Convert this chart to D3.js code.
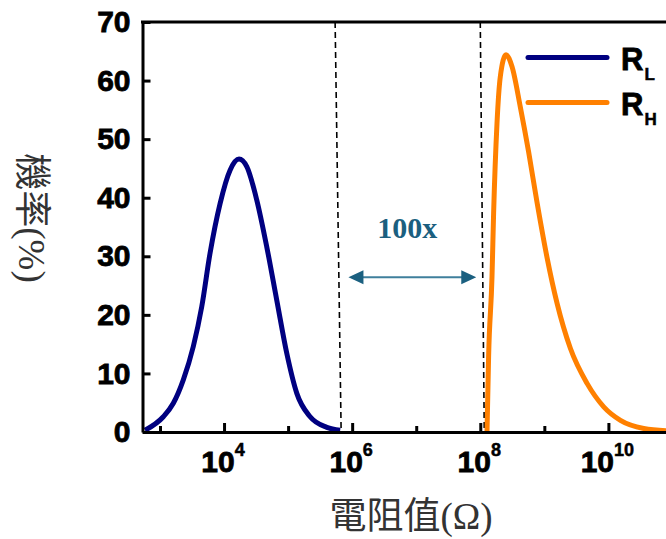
<!DOCTYPE html>
<html>
<head>
<meta charset="utf-8">
<script src="https://cdn.jsdelivr.net/npm/d3@7"></script>
<style>
  body { margin: 0; background: #fff; }
  svg { display: block; }
</style>
</head>
<body>
<div id="chart"></div>
<script>
// svg box size
var width = 666,
    height = 539;

// R_L curve: log10(resistance) and probability (%)
var rlExp  = [2.766, 3.052, 3.208, 3.364, 3.52, 3.652, 3.781, 3.938, 4.094, 4.234,
              4.355, 4.511, 4.667, 4.823, 4.98, 5.136, 5.344, 5.605, 5.813];
var rlProb = [0.3, 2.6, 4.9, 8.9, 14.6, 21.4, 30.5, 39.0, 44.7, 46.6,
              45.3, 39.6, 31.6, 22.5, 13.4, 6.6, 2.6, 0.8, 0.3];

// R_H curve
var rhExp  = [8.105, 8.13, 8.183, 8.208, 8.261, 8.313, 8.402, 8.495, 8.625, 8.755,
              8.886, 9.042, 9.198, 9.406, 9.667, 9.927, 10.188, 10.552, 10.906, 11.3];
var rhProb = [0, 12.9, 26.5, 37.3, 52.7, 60.7, 64.4, 62.4, 55.5, 47.8,
              39.2, 29.8, 22.0, 14.3, 8.3, 4.3, 2.0, 0.6, 0.2, 0.1];

// ticks
var yTicks = [0, 10, 20, 30, 40, 50, 60, 70];
var xDecades = [3, 4, 5, 6, 7, 8, 9, 10, 11];
var xLabelExp = [4, 6, 8, 10];

// dashed guide lines (top exp, bottom exp) and the 100x arrow
var guideTop = [5.734, 8.0];
var guideBottom = [5.828, 8.0625];
var arrowExp = [5.942, 7.9375];
var arrowProb = 26.4;

var legendNames = ["L", "H"];
var colors = ["#000080", "#ff8000"];

var x = d3.scaleLog()
    .domain([Math.pow(10, 2.727), Math.pow(10, 11.43)])
    .range([142.5, 700]);

var y = d3.scaleLinear()
    .domain([0, 70])
    .range([432, 22]);

var svg = d3.select("#chart").append("svg")
    .attr("width", width)
    .attr("height", height);

var numFont = "'Liberation Sans', Arial, sans-serif";
var titleFont = "'Liberation Serif', 'Noto Sans CJK TC', serif";

// clip so curves stay in the plot
svg.append("clipPath").attr("id", "plot")
  .append("rect")
    .attr("x", 142.5).attr("y", 22)
    .attr("width", 560).attr("height", 410);

// dashed guide lines
svg.selectAll(".guide")
    .data(guideTop)
    .enter()
    .append("line")
    .attr("x1", function(d) { return x(Math.pow(10, d)); })
    .attr("x2", function(d, i) { return x(Math.pow(10, guideBottom[i])); })
    .attr("y1", y(70))
    .attr("y2", y(0))
    .style("stroke", "#000")
    .style("stroke-width", 1.6)
    .style("stroke-dasharray", "6,4");

// curves
var line = d3.line()
    .x(function(d) { return x(Math.pow(10, d[0])); })
    .y(function(d) { return y(d[1]); })
    .curve(d3.curveMonotoneX);

var series = [d3.zip(rlExp, rlProb), d3.zip(rhExp, rhProb)];

svg.append("g")
    .attr("clip-path", "url(#plot)")
  .selectAll("path")
    .data(series)
    .enter()
    .append("path")
    .attr("d", line)
    .style("fill", "none")
    .style("stroke", function(d, i) { return colors[i]; })
    .style("stroke-width", 5)
    .style("stroke-linejoin", "round");

// 100x arrow
var ax1 = x(Math.pow(10, arrowExp[0])),
    ax2 = x(Math.pow(10, arrowExp[1])),
    ay = y(arrowProb);

svg.append("line")
    .attr("x1", ax1 + 12).attr("x2", ax2 - 12)
    .attr("y1", ay).attr("y2", ay)
    .style("stroke", "#3f7f9c")
    .style("stroke-width", 2);

svg.append("path")
    .attr("d", "M" + ax1 + "," + ay + "l15,-7l0,14z" +
               "M" + ax2 + "," + ay + "l-15,-7l0,14z")
    .style("fill", "#1b6080");

svg.append("text")
    .attr("x", x(Math.pow(10, 6.86)))
    .attr("y", y(33.2))
    .attr("text-anchor", "middle")
    .style("font-family", titleFont)
    .style("font-weight", "bold")
    .style("font-size", "30px")
    .style("fill", "#1b5f7f")
    .text("100x");

// y axis
var yAxis = svg.append("g")
    .attr("transform", "translate(142.5,0)")
    .call(d3.axisLeft(y).tickValues(yTicks).tickSizeInner(-8).tickSizeOuter(0).tickPadding(12));

yAxis.select(".domain").style("stroke-width", 3);
yAxis.selectAll(".tick line").style("stroke-width", 3);
yAxis.selectAll(".tick text")
    .style("font-family", numFont)
    .style("font-weight", "bold")
    .style("font-size", "30px")
    .style("fill", "#000")
    .style("stroke", "#000")
    .style("stroke-width", 0.8);

// x axis
var xAxis = svg.append("g")
    .attr("transform", "translate(0,432)")
    .call(d3.axisBottom(x).tickValues(xDecades.map(function(d) { return Math.pow(10, d); }))
        .tickSizeInner(-9).tickSizeOuter(0).tickFormat(""));

xAxis.select(".domain").style("stroke-width", 3);
xAxis.selectAll(".tick line")
    .style("stroke-width", 3)
    .attr("y2", function(d) {
        var e = Math.round(Math.log10(d));
        return e % 2 === 0 ? -9 : -6;
    });

var xLab = svg.selectAll(".xlab")
    .data(xLabelExp)
    .enter()
    .append("text")
    .attr("x", function(d) { return x(Math.pow(10, d)) - 1; })
    .attr("y", 472)
    .attr("text-anchor", "middle")
    .style("font-family", numFont)
    .style("font-weight", "bold")
    .style("font-size", "30px")
    .style("stroke", "#000")
    .style("stroke-width", 0.8);

xLab.append("tspan").text("10");
xLab.append("tspan")
    .attr("dy", -16)
    .style("font-size", "18px")
    .style("stroke-width", 0.5)
    .text(function(d) { return d; });

// top frame
svg.append("line")
    .attr("x1", 141).attr("x2", width)
    .attr("y1", 22).attr("y2", 22)
    .style("stroke", "#000")
    .style("stroke-width", 3);

// legend
var legend = svg.selectAll(".legend")
    .data(legendNames)
    .enter()
    .append("g")
    .attr("transform", function(d, i) { return "translate(0," + (57.5 + i * 45) + ")"; });

legend.append("line")
    .attr("x1", 528).attr("x2", 607)
    .style("stroke", function(d, i) { return colors[i]; })
    .style("stroke-width", 5)
    .style("stroke-linecap", "round");

var legText = legend.append("text")
    .attr("x", 621)
    .attr("y", 12.5)
    .style("font-family", numFont)
    .style("font-weight", "bold")
    .style("font-size", "31px")
    .style("stroke", "#000")
    .style("stroke-width", 0.8);

legText.append("tspan").text("R");
legText.append("tspan")
    .attr("dy", 10)
    .attr("dx", 1)
    .style("font-size", "17px")
    .style("stroke-width", 0.5)
    .text(function(d) { return d; });

// axis titles
svg.append("text")
    .attr("x", 411)
    .attr("y", 529)
    .attr("text-anchor", "middle")
    .style("font-family", titleFont)
    .style("font-size", "37px")
    .style("fill", "#333")
    .text("電阻值(Ω)");

svg.append("text")
    .attr("transform", "translate(19,218) rotate(90)")
    .attr("text-anchor", "middle")
    .style("font-family", titleFont)
    .style("font-size", "37px")
    .style("fill", "#333")
    .text("機率(%)");
</script>
</body>
</html>
